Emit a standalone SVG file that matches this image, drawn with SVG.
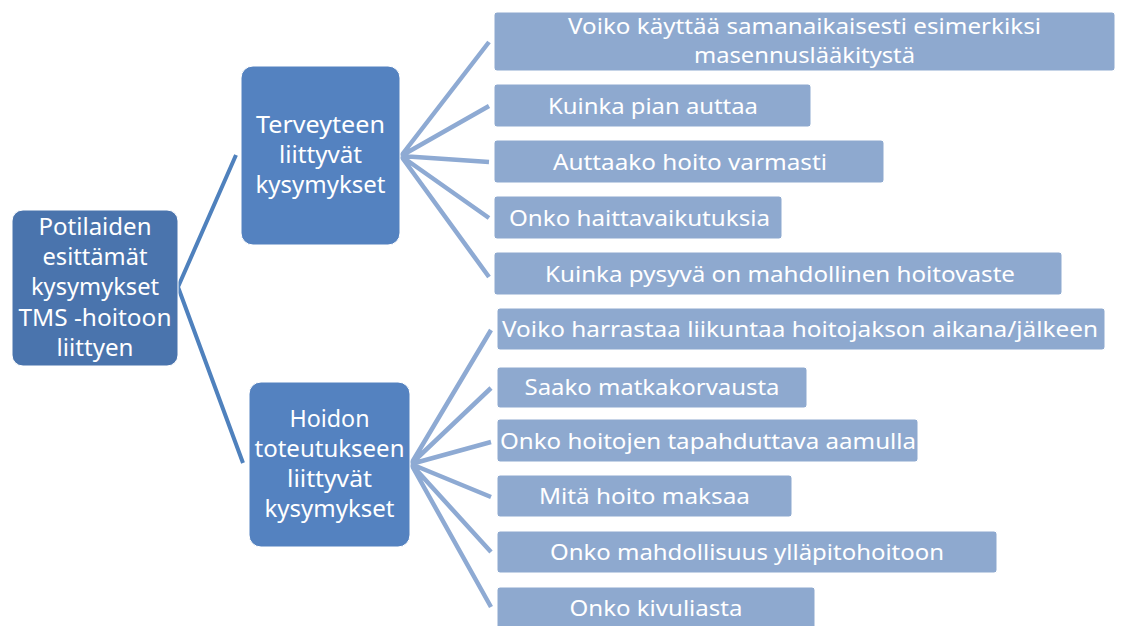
<svg xmlns="http://www.w3.org/2000/svg" width="1121" height="626" viewBox="0 0 1121 626">
<style>
.main{fill:#4a74ad;stroke:#ffffff;stroke-width:1}
.mid{fill:#5482c0;stroke:#ffffff;stroke-width:1}
.leaf{fill:#8ea9cf;stroke:#ffffff;stroke-width:1}
.t{font-family:"Noto Sans","Open Sans",sans-serif;fill:#ffffff;text-anchor:middle}
.big{font-size:24px}
.sm{font-size:22.5px}
.c1{stroke:#4f81bd;stroke-width:4;fill:none;stroke-linecap:butt}
.c2{stroke:#8eaad3;stroke-width:4.5;fill:none;stroke-linecap:butt}
</style>
<rect width="1121" height="626" fill="#ffffff"/>
<g id="connectors">
<path class="c1" d="M178,287 L236,155 M178,287 L243,463"/>
<path class="c2" d="M401,156 L489,42 M401,156 L489,106 M401,156 L489,162 M401,156 L489,218 M401,156 L489,277"/>
<path class="c2" d="M411,464 L491,330 M411,464 L491,388 M411,464 L491,442 M411,464 L491,497 M411,464 L491,552 M411,464 L491,607"/>
</g>
<g id="root">
<rect class="main" x="12" y="210" width="166" height="156" rx="11"/>
<text class="t big"><tspan x="95" y="235" textLength="113" lengthAdjust="spacingAndGlyphs">Potilaiden</tspan><tspan x="95" y="265" textLength="105" lengthAdjust="spacingAndGlyphs">esittämät</tspan><tspan x="95" y="295" textLength="128" lengthAdjust="spacingAndGlyphs">kysymykset</tspan><tspan x="95" y="326" textLength="153" lengthAdjust="spacingAndGlyphs">TMS -hoitoon</tspan><tspan x="95" y="356" textLength="77" lengthAdjust="spacingAndGlyphs">liittyen</tspan></text>
</g>
<g id="terveyteen">
<rect class="mid" x="241" y="66" width="159" height="179" rx="12"/>
<text class="t big"><tspan x="320.5" y="133" textLength="129" lengthAdjust="spacingAndGlyphs">Terveyteen</tspan><tspan x="320.5" y="163" textLength="83" lengthAdjust="spacingAndGlyphs">liittyvät</tspan><tspan x="320.5" y="193" textLength="130" lengthAdjust="spacingAndGlyphs">kysymykset</tspan></text>
</g>
<g id="hoidon">
<rect class="mid" x="249" y="382" width="161" height="165" rx="12"/>
<text class="t big"><tspan x="329.5" y="427" textLength="80" lengthAdjust="spacingAndGlyphs">Hoidon</tspan><tspan x="329.5" y="457" textLength="150" lengthAdjust="spacingAndGlyphs">toteutukseen</tspan><tspan x="329.5" y="487" textLength="85" lengthAdjust="spacingAndGlyphs">liittyvät</tspan><tspan x="329.5" y="517" textLength="130" lengthAdjust="spacingAndGlyphs">kysymykset</tspan></text>
</g>
<g id="leaf1">
<rect class="leaf" x="494" y="12" width="621" height="59" rx="3"/>
<text class="t sm"><tspan x="804.5" y="34" textLength="473" lengthAdjust="spacingAndGlyphs">Voiko käyttää samanaikaisesti esimerkiksi</tspan><tspan x="804.5" y="63" textLength="221" lengthAdjust="spacingAndGlyphs">masennuslääkitystä</tspan></text>
</g>
<g id="leaf2">
<rect class="leaf" x="494" y="84" width="317" height="43" rx="3"/>
<text class="t sm" x="653" y="114" textLength="210" lengthAdjust="spacingAndGlyphs">Kuinka pian auttaa</text>
</g>
<g id="leaf3">
<rect class="leaf" x="494" y="140" width="390" height="43" rx="3"/>
<text class="t sm" x="690" y="170" textLength="274" lengthAdjust="spacingAndGlyphs">Auttaako hoito varmasti</text>
</g>
<g id="leaf4">
<rect class="leaf" x="494" y="196" width="288" height="43" rx="3"/>
<text class="t sm" x="639.5" y="226" textLength="261" lengthAdjust="spacingAndGlyphs">Onko haittavaikutuksia</text>
</g>
<g id="leaf5">
<rect class="leaf" x="494" y="252" width="568" height="43" rx="3"/>
<text class="t sm" x="780" y="282" textLength="470" lengthAdjust="spacingAndGlyphs">Kuinka pysyvä on mahdollinen hoitovaste</text>
</g>
<g id="leaf6">
<rect class="leaf" x="497" y="308" width="608" height="42" rx="3"/>
<text class="t sm" x="800" y="337" textLength="596" lengthAdjust="spacingAndGlyphs">Voiko harrastaa liikuntaa hoitojakson aikana/jälkeen</text>
</g>
<g id="leaf7">
<rect class="leaf" x="497" y="367" width="310" height="41" rx="3"/>
<text class="t sm" x="652" y="395" textLength="255" lengthAdjust="spacingAndGlyphs">Saako matkakorvausta</text>
</g>
<g id="leaf8">
<rect class="leaf" x="497" y="419" width="421" height="43" rx="3"/>
<text class="t sm" x="708" y="449" textLength="416" lengthAdjust="spacingAndGlyphs">Onko hoitojen tapahduttava aamulla</text>
</g>
<g id="leaf9">
<rect class="leaf" x="497" y="475" width="295" height="42" rx="3"/>
<text class="t sm" x="644.5" y="504" textLength="211" lengthAdjust="spacingAndGlyphs">Mitä hoito maksaa</text>
</g>
<g id="leaf10">
<rect class="leaf" x="497" y="531" width="500" height="42" rx="3"/>
<text class="t sm" x="747" y="560" textLength="394" lengthAdjust="spacingAndGlyphs">Onko mahdollisuus ylläpitohoitoon</text>
</g>
<g id="leaf11">
<rect class="leaf" x="497" y="587" width="318" height="45" rx="3"/>
<text class="t sm" x="656" y="616" textLength="173" lengthAdjust="spacingAndGlyphs">Onko kivuliasta</text>
</g>
</svg>
